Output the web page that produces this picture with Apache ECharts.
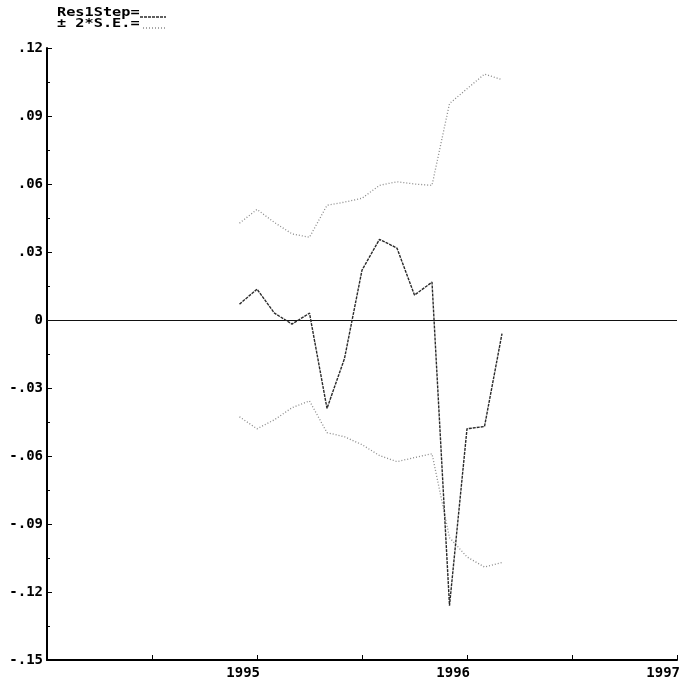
<!DOCTYPE html>
<html>
<head>
<meta charset="utf-8">
<script src="https://cdn.jsdelivr.net/npm/echarts@6/dist/echarts.min.js"></script>
<style>
  html, body { margin: 0; padding: 0; background: #fff; }
  #chart { width: 683px; height: 689px; }
</style>
</head>
<body>
<div id="chart"></div>
<script>
// Monthly periods (year, month) of the one-step residuals
const periods = [
  [1994, 12], [1995, 1], [1995, 2], [1995, 3], [1995, 4], [1995, 5], [1995, 6], [1995, 7],
  [1995, 8], [1995, 9], [1995, 10], [1995, 11], [1995, 12], [1996, 1], [1996, 2], [1996, 3]
];

// One-step residuals
const res1Step = [0.007, 0.0136, 0.003, -0.0018, 0.003, -0.039, -0.017, 0.022,
                  0.0356, 0.0317, 0.011, 0.0167, -0.126, -0.048, -0.047, -0.006];

// +2 standard errors
const upperBand = [0.0427, 0.0488, 0.043, 0.038, 0.0365, 0.0506, 0.052, 0.0537,
                   0.0594, 0.061, 0.060, 0.0594, 0.0955, 0.102, 0.1085, 0.106];

// -2 standard errors
const lowerBand = [-0.0427, -0.048, -0.044, -0.0387, -0.0357, -0.0497, -0.0515, -0.055,
                   -0.0598, -0.0625, -0.0607, -0.059, -0.096, -0.1045, -0.109, -0.107];

// Year labels shown on the time axis
const yearLabels = [1995, 1996, 1997];

const toYear = p => p[0] + (p[1] - 1) / 12;
const pairs = vals => periods.map((p, i) => [toYear(p), vals[i]]);

const FONT = '"DejaVu Sans Mono", "Liberation Mono", monospace';
const RES_COLOR = '#2a2a2a';
const BAND_COLOR = '#8a8a8a';
const RES_DASH = [3, 1];
const BAND_DASH = [1, 2];

const fmtY = v => {
  const r = Math.round(v * 100) / 100;
  if (r === 0) return '0';
  const s = Math.abs(r).toFixed(2).replace(/^0/, '');
  return (r < 0 ? '-' : '') + s;
};

const chart = echarts.init(document.getElementById('chart'), null, { renderer: 'canvas' });

// Key in the top-left corner: a wide bold name followed by a sample of its line
const legendFont = 'bold 12px ' + FONT;
const keyItems = [
  { text: 'Res1Step=', y: 7, lineY: 17, x1: 140, color: RES_COLOR, dash: RES_DASH },
  { text: '± 2*S.E.=', y: 18, lineY: 28, x1: 143, color: BAND_COLOR, dash: BAND_DASH }
];
const keyGraphics = [];
keyItems.forEach(k => {
  keyGraphics.push({
    type: 'text', x: 57, y: k.y, scaleX: 1.27,
    style: { text: k.text, font: legendFont, fill: '#000' }
  });
  keyGraphics.push({
    type: 'line',
    shape: { x1: k.x1, y1: k.lineY, x2: 166, y2: k.lineY },
    style: { stroke: k.color, lineWidth: 1.3, lineDash: k.dash }
  });
});

chart.setOption({
  animation: false,
  backgroundColor: '#ffffff',
  grid: { left: 47, right: 6, top: 48, bottom: 29, containLabel: false },
  graphic: keyGraphics,
  xAxis: {
    type: 'value',
    min: 1994,
    max: 1997,
    interval: 0.5,
    axisLine: { show: true, onZero: false, lineStyle: { color: '#000', width: 2 } },
    axisTick: { show: true, inside: true, length: 5, lineStyle: { color: '#000', width: 1 } },
    splitLine: { show: false },
    axisLabel: {
      fontFamily: FONT, fontWeight: 'bold', fontSize: 14, color: '#000',
      align: 'right', margin: 6, padding: [0, -3, 0, 0],
      formatter: v => (yearLabels.indexOf(Math.round(v * 2) / 2) >= 0 ? String(v) : '')
    }
  },
  yAxis: {
    type: 'value',
    min: -0.15,
    max: 0.12,
    interval: 0.03,
    axisLine: { show: true, onZero: false, lineStyle: { color: '#000', width: 2 } },
    axisTick: { show: true, inside: true, length: 5, lineStyle: { color: '#000', width: 1 } },
    minorTick: { show: true, splitNumber: 2, length: 3, lineStyle: { color: '#000', width: 1 } },
    splitLine: { show: false },
    axisLabel: {
      fontFamily: FONT, fontWeight: 'bold', fontSize: 14, color: '#000', margin: 4,
      formatter: fmtY
    }
  },
  series: [
    {
      name: 'zero',
      type: 'line',
      data: [],
      silent: true,
      markLine: {
        silent: true,
        symbol: 'none',
        label: { show: false },
        lineStyle: { color: '#111', width: 1.2, type: 'solid' },
        data: [{ yAxis: 0 }]
      }
    },
    {
      name: '± 2*S.E.',
      type: 'line',
      data: pairs(upperBand),
      symbol: 'none',
      lineStyle: { color: BAND_COLOR, width: 1.3, type: BAND_DASH }
    },
    {
      name: '± 2*S.E.',
      type: 'line',
      data: pairs(lowerBand),
      symbol: 'none',
      lineStyle: { color: BAND_COLOR, width: 1.3, type: BAND_DASH }
    },
    {
      name: 'Res1Step',
      type: 'line',
      data: pairs(res1Step),
      symbol: 'none',
      lineStyle: { color: RES_COLOR, width: 1.4, type: RES_DASH },
      z: 5
    }
  ]
});
</script>
</body>
</html>
